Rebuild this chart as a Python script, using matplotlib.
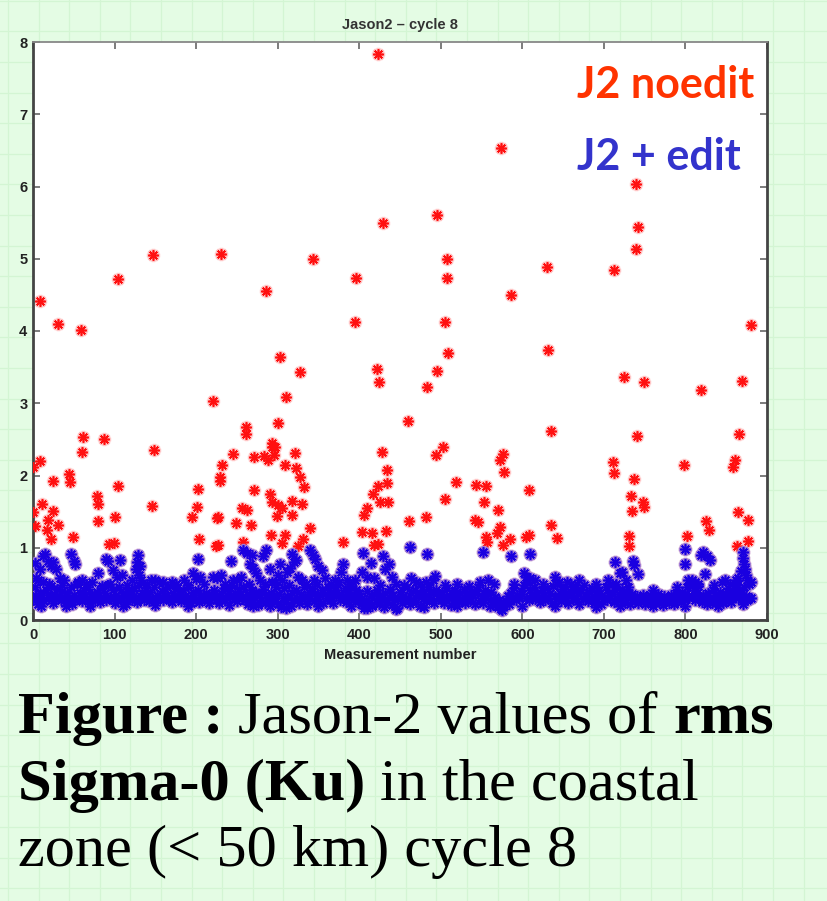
import numpy as np
import matplotlib
matplotlib.use('Agg')
import matplotlib.pyplot as plt

# ---------------- data ----------------
# dense band of retained values, measurement numbers 0,2,4,...,880
band_y = [
    0.28,0.45,0.33,0.22,0.38,0.30,0.52,0.26,0.41,0.35,
    0.31,0.47,0.24,0.36,0.29,0.43,0.33,0.27,0.40,0.32,
    0.25,0.38,0.30,0.45,0.22,0.34,0.28,0.50,0.31,0.37,
    0.26,0.42,0.33,0.29,0.46,0.24,0.36,0.31,0.28,0.39,
    0.33,0.25,0.44,0.30,0.37,0.27,0.48,0.32,0.29,0.41,
    0.24,0.35,0.30,0.46,0.27,0.38,0.33,0.22,0.40,0.31,
    0.36,0.28,0.44,0.32,0.25,0.49,0.30,0.37,0.27,0.42,
    0.33,0.26,0.39,0.30,0.45,0.28,0.35,0.52,0.31,0.40,
    0.27,0.43,0.34,0.29,0.47,0.25,0.38,0.32,0.44,0.30,
    0.36,0.26,0.41,0.33,0.28,0.46,0.31,0.24,0.39,0.34,
    0.29,0.42,0.25,0.35,0.31,0.27,0.38,0.33,0.24,0.36,
    0.30,0.41,0.27,0.34,0.23,0.37,0.31,0.44,0.28,0.35,
    0.40,0.32,0.48,0.29,0.38,0.26,0.43,0.35,0.30,0.46,
    0.27,0.36,0.22,0.33,0.41,0.25,0.30,0.38,0.21,0.34,
    0.28,0.43,0.24,0.35,0.30,0.20,0.37,0.26,0.32,0.45,
    0.22,0.36,0.18,0.30,0.44,0.25,0.33,0.48,0.20,0.38,
    0.27,0.42,0.31,0.24,0.36,0.29,0.46,0.33,0.22,0.39,
    0.30,0.44,0.26,0.37,0.50,0.29,0.34,0.41,0.24,0.36,
    0.31,0.45,0.28,0.38,0.23,0.42,0.33,0.49,0.27,0.36,
    0.30,0.44,0.25,0.39,0.33,0.47,0.28,0.35,0.42,0.26,
    0.37,0.22,0.31,0.17,0.28,0.40,0.24,0.33,0.19,0.36,
    0.27,0.41,0.22,0.34,0.30,0.18,0.38,0.25,0.32,0.43,
    0.21,0.35,0.28,0.16,0.31,0.39,0.24,0.33,0.27,0.45,
    0.30,0.22,0.37,0.28,0.42,0.25,0.33,0.20,0.36,0.29,
    0.40,0.26,0.34,0.46,0.29,0.37,0.23,0.42,0.31,0.35,
    0.27,0.39,0.24,0.33,0.44,0.30,0.21,0.36,0.28,0.41,
    0.32,0.25,0.38,0.29,0.43,0.23,0.35,0.31,0.26,0.40,
    0.34,0.22,0.37,0.46,0.28,0.33,0.24,0.41,0.30,0.36,
    0.27,0.39,0.21,0.32,0.25,0.18,0.28,0.15,0.23,0.19,
    0.26,0.33,0.22,0.38,0.29,0.44,0.27,0.35,0.31,0.40,
    0.36,0.48,0.30,0.53,0.27,0.42,0.34,0.46,0.29,0.38,
    0.32,0.25,0.41,0.35,0.28,0.44,0.30,0.37,0.23,0.47,
    0.33,0.50,0.29,0.38,0.26,0.43,0.31,0.36,0.24,0.40,
    0.34,0.28,0.45,0.31,0.37,0.22,0.42,0.29,0.48,0.33,
    0.26,0.39,0.31,0.44,0.24,0.36,0.29,0.41,0.22,0.35,
    0.30,0.46,0.27,0.38,0.33,0.50,0.25,0.41,0.31,0.36,
    0.28,0.43,0.34,0.24,0.39,0.31,0.22,0.36,0.29,0.26,
    0.33,0.24,0.30,0.27,0.35,0.22,0.31,0.26,0.34,0.29,
    0.23,0.32,0.28,0.36,0.25,0.30,0.21,0.33,0.27,0.31,
    0.24,0.35,0.29,0.22,0.37,0.27,0.32,0.25,0.39,0.30,
    0.36,0.45,0.30,0.50,0.33,0.41,0.27,0.38,0.47,0.31,
    0.25,0.34,0.28,0.22,0.37,0.30,0.24,0.41,0.29,0.33,
    0.26,0.39,0.31,0.23,0.36,0.28,0.44,0.32,0.25,0.40,
    0.34,0.48,0.30,0.42,0.37,0.29,0.45,0.33,0.28,0.31,
    0.30,
]
band_x = list(range(0, 2 * len(band_y), 2))

# scattered retained values along the upper and lower edges of the band
edge_x = [6,20,35,55,65,85,95,115,140,145,160,175,190,210,235,245,255,265,285,305,
          335,345,365,375,390,395,425,445,455,475,490,505,520,535,548,565,590,610,
          615,625,645,660,670,690,705,715,730,760,790,808,815,835,845,855,862,878,
          10,40,70,110,150,190,240,270,310,350,390,410,445,480,520,560,575,600,640,
          690,720,760,800,840,870]
edge_y = [0.55,0.50,0.48,0.52,0.50,0.47,0.50,0.48,0.50,0.55,0.52,0.50,0.48,0.50,
          0.50,0.55,0.60,0.50,0.50,0.55,0.50,0.55,0.50,0.52,0.50,0.55,0.48,0.50,
          0.48,0.50,0.55,0.48,0.50,0.47,0.52,0.50,0.50,0.58,0.55,0.50,0.52,0.50,
          0.55,0.50,0.55,0.50,0.45,0.42,0.45,0.55,0.50,0.48,0.52,0.50,0.55,0.50,
          0.20,0.20,0.19,0.20,0.21,0.20,0.21,0.19,0.16,0.20,0.19,0.16,0.15,0.18,
          0.20,0.19,0.14,0.19,0.20,0.18,0.20,0.20,0.20,0.20,0.22]

# retained (edited) values above the dense band
blue_hi_x = [3,4,8,12,15,18,22,25,28,33,38,47,50,52,60,72,80,90,92,98,103,107,109,
             122,126,128,129,130,131,133,150,170,185,196,200,202,205,221,225,230,243,
             250,258,262,266,268,270,274,278,282,286,290,293,297,300,303,311,315,317,
             320,323,325,330,340,343,346,350,354,358,370,378,380,385,403,405,410,414,
             418,429,432,436,440,462,464,470,483,482,493,552,558,586,602,605,609,640,
             655,714,720,722,727,736,737,742,799,799,803,812,819,822,826,830,824,848,
             864,868,870,871,872,873,874,876,880]
blue_hi_y = [0.79,0.58,0.70,0.88,0.92,0.82,0.75,0.80,0.70,0.58,0.55,0.91,0.82,0.78,0.56,
             0.52,0.65,0.85,0.82,0.69,0.60,0.83,0.62,0.55,0.70,0.80,0.90,0.62,0.75,0.55,
             0.55,0.53,0.55,0.65,0.57,0.84,0.60,0.60,0.58,0.62,0.81,0.55,0.97,0.93,0.78,
             0.90,0.72,0.65,0.55,0.88,0.97,0.70,0.52,0.53,0.62,0.78,0.67,0.72,0.92,0.80,
             0.83,0.60,0.55,0.97,0.90,0.85,0.75,0.69,0.58,0.55,0.67,0.78,0.55,0.67,0.93,
             0.60,0.79,0.58,0.88,0.70,0.78,0.60,1.01,0.58,0.52,0.91,0.52,0.61,0.94,0.56,
             0.88,0.65,0.60,0.91,0.60,0.52,0.80,0.65,0.67,0.56,0.81,0.76,0.63,0.98,0.78,
             0.55,0.52,0.90,0.94,0.88,0.83,0.63,0.55,0.58,0.68,0.94,0.86,0.78,0.70,0.62,
             0.55,0.52]

# rejected values (only in the non-edited series)
red_out_x = [422.6,428.7,147.5,230.5,342.9,103.8,395.6,285.3,8.6,30.3,58.9,394.4,302.8,
             327.4,421.4,424.2,221,309.8,
             573.8,739,495,741.4,507.2,739.7,507.2,630.6,712.7,586.1,505.1,880.3,508.5,
             631.1,495.7,483.5,725,748.7,818.6,868.9,
             61.7,87,60.5,148.4,8.6,0.5,44.5,45.4,24.9,104.6,10.6,78.1,79.3,24.1,0.5,
             146.3,201.9,200.7,194.5,225.2,18.8,2.5,31,16.8,80.1,100.5,21.7,49.4,93.2,
             99.7,203.9,224.4,
             300,260.8,260.8,245.6,271.4,283.6,293.4,295.9,288.5,321.2,309,322.1,327.4,
             332.3,231.3,229.3,229.3,271.4,290.6,292.7,300.8,317.2,330.2,318,304.9,298.8,
             255.9,262,226.4,248.5,266.9,339.6,291.8,309,304.9,331.4,325.3,257.9,226.4,
             380.5,427.5,433.7,433.7,423.4,417.3,425.5,435.6,409.1,406.2,403,415.3,432.4,
             423.4,418.4,293,297,
             460.2,634.8,503.1,494.1,575.9,572.6,577.5,518.6,543.2,555.4,608.5,505.2,553,
             570.5,461,481.5,541.9,546,572.6,569.3,555.4,556.2,584.8,576.6,604.5,608.5,
             635.1,642.1,
             740.2,865.6,711.5,712.7,737.2,798.2,860.7,858.6,732.8,748.3,749.5,734,825.2,
             828.8,864.8,876.3,731.1,731.1,801.5,862.8,877.1]
red_out_y = [7.83,5.50,5.05,5.06,5.00,4.72,4.74,4.55,4.42,4.10,4.02,4.12,3.64,
             3.43,3.47,3.29,3.03,3.08,
             6.53,6.03,5.60,5.44,5.00,5.13,4.73,4.88,4.84,4.50,4.13,4.08,3.69,
             3.74,3.45,3.22,3.37,3.30,3.18,3.31,
             2.53,2.51,2.32,2.35,2.20,2.12,2.02,1.91,1.93,1.86,1.60,1.72,1.61,1.51,1.50,
             1.58,1.81,1.57,1.43,1.41,1.38,1.30,1.31,1.25,1.37,1.43,1.12,1.15,1.05,
             1.06,1.12,1.03,
             2.73,2.67,2.58,2.30,2.26,2.27,2.39,2.28,2.21,2.31,2.15,2.10,1.98,
             1.84,2.15,1.98,1.93,1.80,1.74,1.64,1.59,1.65,1.60,1.46,1.55,1.44,
             1.55,1.52,1.42,1.34,1.31,1.27,1.17,1.17,1.06,1.12,1.02,1.08,1.04,
             1.08,2.32,2.08,1.90,1.85,1.75,1.64,1.64,1.55,1.45,1.22,1.20,1.23,
             1.05,1.04,2.45,2.40,
             2.75,2.61,2.40,2.28,2.30,2.21,2.05,1.91,1.87,1.86,1.80,1.67,1.64,
             1.52,1.37,1.42,1.38,1.36,1.29,1.20,1.15,1.08,1.12,1.04,1.15,1.18,
             1.32,1.14,
             2.54,2.57,2.18,2.04,1.95,2.14,2.21,2.12,1.72,1.64,1.56,1.51,1.37,
             1.24,1.49,1.38,1.16,1.03,1.16,1.02,1.09]

x_ticks = list(range(0, 901, 100))
y_ticks = list(range(0, 9))

# ---------------- figure ----------------
W, H = 827, 901
fig = plt.figure(figsize=(W / 100, H / 100), dpi=100)
fig.patch.set_facecolor('#e4fce4')

bg = fig.add_axes([0, 0, 1, 1], zorder=-10)
bg.set_xlim(0, W)
bg.set_ylim(H, 0)
bg.axis('off')
for gx in np.arange(8, W, 30.6):
    bg.axvline(gx, color='#d3f5d3', lw=0.9)
for gy in np.arange(0.8, H, 30.6):
    bg.axhline(gy, color='#d3f5d3', lw=0.9)

L, R, T, B = 33, 767, 42, 620
ax = fig.add_axes([L / W, 1 - B / H, (R - L) / W, (B - T) / H])
ax.set_facecolor('white')

blue_x = band_x + edge_x + blue_hi_x
blue_y = band_y + edge_y + blue_hi_y
red_x = blue_x + red_out_x
red_y = blue_y + red_out_y

mk = (8, 2, 0)
# soft halo (the reference is slightly blurred)
ax.plot(red_x, red_y, linestyle='none', marker=mk, ms=9.5, mew=2.6,
        color='#ffc4c4', zorder=2)
ax.plot(red_x, red_y, linestyle='none', marker=mk, ms=7.5, mew=1.2,
        color='#ff1010', zorder=3)
ax.plot(blue_x, blue_y, linestyle='none', marker=mk, ms=9.5, mew=2.6,
        color='#9d7ad6', zorder=4)
ax.plot(blue_x, blue_y, linestyle='none', marker=mk, ms=7.5, mew=1.2,
        color='#1a00e0', zorder=5)

ax.set_xlim(0, 900)
ax.set_ylim(0, 8)
ax.set_xticks(x_ticks)
ax.set_yticks(y_ticks)
ax.tick_params(direction='in', length=5, width=1.2, color='#666666',
               top=True, right=True, labelsize=10.5, labelcolor='#222222')
ax.tick_params(axis='x', pad=6)
ax.tick_params(axis='y', pad=4)
for lab in ax.get_xticklabels() + ax.get_yticklabels():
    lab.set_fontfamily('Liberation Sans')
    lab.set_fontweight('bold')
for s in ['left', 'bottom', 'right']:
    ax.spines[s].set_color('#444444')
    ax.spines[s].set_linewidth(2.0)
ax.spines['top'].set_color('#888888')
ax.spines['top'].set_linewidth(1.3)

fig.text(400 / W, 1 - 25 / H, 'Jason2 – cycle 8', ha='center', va='center',
         fontsize=10.5, family='Liberation Sans', weight='bold', color='#333333')
fig.text(400 / W, 1 - 655 / H, 'Measurement number', ha='center', va='center',
         fontsize=10.5, family='Liberation Sans', weight='bold', color='#222222')

fig.text(577 / W, 1 - 98 / H, 'J2 noedit', ha='left', va='baseline',
         fontsize=31, family='Lato', weight='bold', color='#ff3300')
fig.text(577 / W, 1 - 170 / H, 'J2 + edit', ha='left', va='baseline',
         fontsize=31, family='Lato', weight='bold', color='#3333cc')

# caption with mixed bold / regular runs
fig.canvas.draw()
rend = fig.canvas.get_renderer()
CAP_FS = 43.5
space_px = 0.25 * CAP_FS * 100 / 72


def caption_line(parts, x0, ybase):
    x = x0
    for i, (s, bold) in enumerate(parts):
        if i > 0:
            x += space_px
        t = fig.text(x / W, 1 - ybase / H, s, fontsize=CAP_FS,
                     family='Liberation Serif',
                     weight='bold' if bold else 'normal',
                     ha='left', va='baseline', color='black')
        x += t.get_window_extent(renderer=rend).width


caption_line([('Figure :', True), ('Jason-2 values of', False), ('rms', True)], 18, 733)
caption_line([('Sigma-0 (Ku)', True), ('in the coastal', False)], 18, 800)
caption_line([('zone (< 50 km) cycle 8', False)], 18, 866)

fig.savefig('out.png', dpi=100, facecolor=fig.get_facecolor())
